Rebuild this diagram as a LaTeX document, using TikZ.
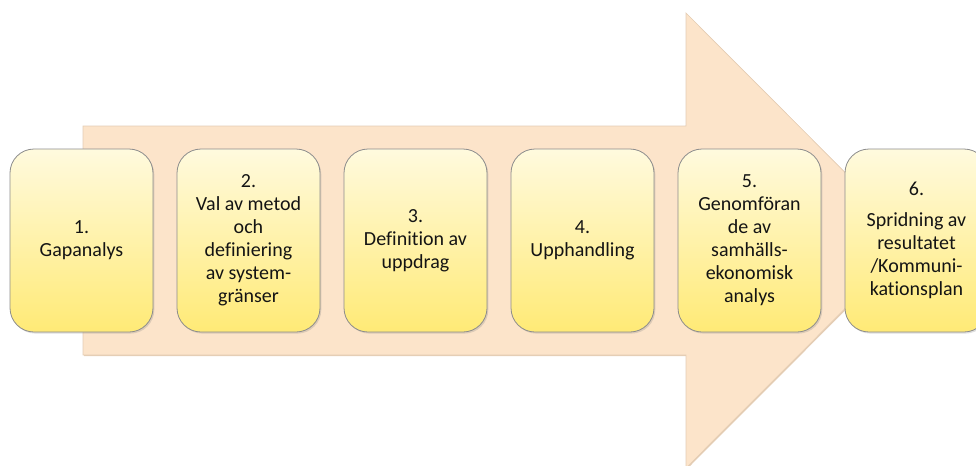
\documentclass[tikz,border=0pt]{standalone}
\usepackage{fontspec}
\setmainfont{Carlito}[Ligatures=NoCommon]
\usetikzlibrary{positioning,shadows}
\definecolor{arrowfill}{RGB}{252,228,202}
\definecolor{arrowline}{RGB}{228,205,180}
\definecolor{boxtop}{RGB}{255,250,222}
\definecolor{boxbot}{RGB}{255,234,118}
\definecolor{boxline}{RGB}{140,140,140}
\definecolor{txt}{RGB}{20,20,20}
\begin{document}
\begin{tikzpicture}[x=0.75pt,y=-0.75pt,
  stepbox/.style={rectangle,rounded corners=18pt,draw=boxline,line width=0.6pt,outer sep=0pt,
    top color=boxtop,bottom color=boxbot,minimum width=107.25pt,minimum height=137.25pt,
    align=center,text=txt,font=\fontsize{15pt}{17.25pt}\selectfont,
    drop shadow={opacity=0.25,shadow xshift=1pt,shadow yshift=-1.2pt}}]
  \useasboundingbox (0,0) rectangle (976,465);
  % Big arrow
  \fill[arrowline] (84,127) -- (687,127) -- (687,14) -- (914,241.5) -- (687,469) -- (687,356) -- (84,356) -- cycle;
  \draw[arrowline,fill=arrowfill,line width=0.5pt] (83,126) -- (686,126) -- (686,13) -- (913,240.5) -- (686,468) -- (686,355) -- (83,355) -- cycle;
  % Steps
  \node[stepbox] (b1) at (81.5,240.5) {1.\\Gapanalys};
  \node[stepbox] (b2) [right=18pt of b1] {2.\\Val av metod\\och\\definiering\\av system-\\gränser};
  \node[stepbox] (b3) [right=18pt of b2] {3.\\Definition av\\uppdrag};
  \node[stepbox] (b4) [right=18pt of b3] {4.\\Upphandling};
  \node[stepbox] (b5) [right=18pt of b4] {5.\\Genomföran\\de av\\samhälls-\\ekonomisk\\analys};
  \node[stepbox] (b6) [right=18pt of b5] {6.\\[6pt]Spridning av\\resultatet\\/Kommuni-\\kationsplan};
\end{tikzpicture}
\end{document}
